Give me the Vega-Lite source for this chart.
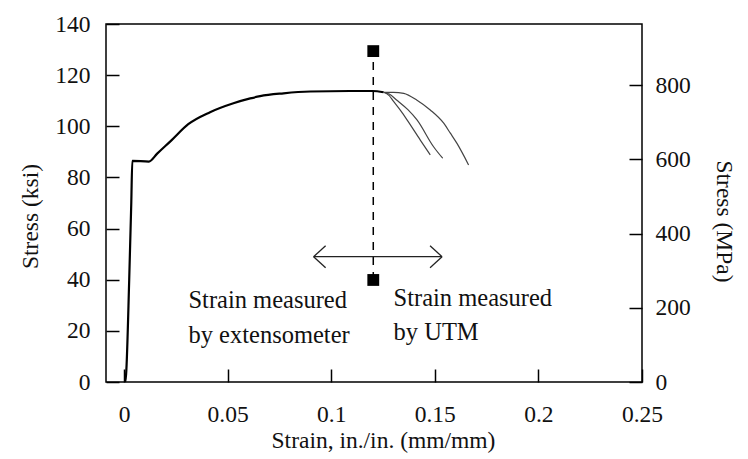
{
  "$schema": "https://vega.github.io/schema/vega-lite/v6.json",
  "width": 536,
  "height": 358,
  "autosize": {"type": "none"},
  "padding": {"left": 106, "top": 24, "right": 106, "bottom": 77},
  "background": "white",
  "config": {
    "view": {"stroke": "black", "strokeWidth": 1.5},
    "font": "Liberation Serif",
    "axis": {
      "domain": false,
      "grid": false,
      "tickColor": "black",
      "tickWidth": 1.5,
      "tickSize": -13,
      "labelFont": "Liberation Serif",
      "labelFontSize": 23.5,
      "labelColor": "#111",
      "titleFont": "Liberation Serif",
      "titleFontSize": 23.5,
      "titleFontWeight": "normal",
      "titleColor": "#111",
      "labelFlush": false,
      "labelOverlap": false
    }
  },
  "datasets": {
    "main": [
      {"strain": 0.0005, "stress": 0},
      {"strain": 0.001, "stress": 3},
      {"strain": 0.0025, "stress": 40},
      {"strain": 0.0035, "stress": 70},
      {"strain": 0.004, "stress": 86.5},
      {"strain": 0.012, "stress": 86.2},
      {"strain": 0.016, "stress": 89.3},
      {"strain": 0.023, "stress": 94.6},
      {"strain": 0.031, "stress": 100.8},
      {"strain": 0.0415, "stress": 105.5},
      {"strain": 0.0528, "stress": 109.0},
      {"strain": 0.0609, "stress": 110.9},
      {"strain": 0.0657, "stress": 111.8},
      {"strain": 0.077, "stress": 112.9},
      {"strain": 0.0899, "stress": 113.6},
      {"strain": 0.109, "stress": 113.8},
      {"strain": 0.12, "stress": 113.8},
      {"strain": 0.1253, "stress": 113.3}
    ],
    "tails": [
      {"series": "A", "strain": 0.1253, "stress": 113.3},
      {"series": "A", "strain": 0.128, "stress": 112.0},
      {"series": "A", "strain": 0.130, "stress": 109.8},
      {"series": "A", "strain": 0.1336, "stress": 106.0},
      {"series": "A", "strain": 0.1366, "stress": 102.5},
      {"series": "A", "strain": 0.143, "stress": 94.6},
      {"series": "A", "strain": 0.1478, "stress": 88.8},
      {"series": "B", "strain": 0.1253, "stress": 113.3},
      {"series": "B", "strain": 0.128, "stress": 112.6},
      {"series": "B", "strain": 0.1317, "stress": 110.2},
      {"series": "B", "strain": 0.137, "stress": 106.5},
      {"series": "B", "strain": 0.1414, "stress": 102.5},
      {"series": "B", "strain": 0.1494, "stress": 92.0},
      {"series": "B", "strain": 0.1538, "stress": 87.5},
      {"series": "C", "strain": 0.1253, "stress": 113.3},
      {"series": "C", "strain": 0.130, "stress": 113.3},
      {"series": "C", "strain": 0.135, "stress": 112.9},
      {"series": "C", "strain": 0.1414, "stress": 110.2},
      {"series": "C", "strain": 0.1478, "stress": 106.4},
      {"series": "C", "strain": 0.1543, "stress": 101.2},
      {"series": "C", "strain": 0.1575, "stress": 97.3},
      {"series": "C", "strain": 0.1607, "stress": 93.3},
      {"series": "C", "strain": 0.1663, "stress": 84.9}
    ],
    "dashed": [
      {"strain": 0.1203, "stress": 39.9, "stress2": 129.4}
    ],
    "squares": [
      {"strain": 0.1203, "stress": 129.4},
      {"strain": 0.1203, "stress": 39.9}
    ],
    "arrow": [
      {"strain": 0.0915, "stress": 49, "strain2": 0.1535, "stress2": 49},
      {"strain": 0.0915, "stress": 49, "strain2": 0.0973, "stress2": 53.3},
      {"strain": 0.0915, "stress": 49, "strain2": 0.0973, "stress2": 44.7},
      {"strain": 0.1535, "stress": 49, "strain2": 0.1477, "stress2": 53.3},
      {"strain": 0.1535, "stress": 49, "strain2": 0.1477, "stress2": 44.7}
    ],
    "labels": [
      {"strain": 0.0311, "stress": 28.9, "label": "Strain measured"},
      {"strain": 0.0311, "stress": 15.2, "label": "by extensometer"},
      {"strain": 0.1301, "stress": 29.7, "label": "Strain measured"},
      {"strain": 0.1301, "stress": 16.4, "label": "by UTM"}
    ],
    "mpa": [
      {"mpa": 0},
      {"mpa": 965.27}
    ]
  },
  "layer": [
    {
      "layer": [
        {
          "data": {"name": "main"},
          "mark": {"type": "line", "color": "black", "strokeWidth": 2.2, "interpolate": "monotone"},
          "encoding": {
            "x": {
              "field": "strain", "type": "quantitative",
              "scale": {"domain": [-0.0087, 0.25], "nice": false, "zero": false},
              "axis": {
                "title": "Strain, in./in. (mm/mm)",
                "values": [0, 0.05, 0.1, 0.15, 0.2, 0.25],
                "format": "~g",
                "labelPadding": 33,
                "titleX": 277,
                "titleY": 58,
                "titleBaseline": "middle"
              }
            },
            "y": {
              "field": "stress", "type": "quantitative",
              "scale": {"domain": [0, 140], "nice": false},
              "axis": {
                "title": "Stress (ksi)",
                "values": [0, 20, 40, 60, 80, 100, 120, 140],
                "labelPadding": 29,
                "titleX": -76,
                "titleY": 192,
                "titleBaseline": "middle",
                "titleAlign": "center"
              }
            }
          }
        },
        {
          "data": {"name": "tails"},
          "mark": {"type": "line", "color": "#444", "strokeWidth": 1.2, "interpolate": "monotone"},
          "encoding": {
            "x": {"field": "strain", "type": "quantitative"},
            "y": {"field": "stress", "type": "quantitative"},
            "detail": {"field": "series"}
          }
        },
        {
          "data": {"name": "dashed"},
          "mark": {"type": "rule", "color": "black", "strokeWidth": 1.5, "strokeDash": [8, 7]},
          "encoding": {
            "x": {"field": "strain", "type": "quantitative"},
            "y": {"field": "stress", "type": "quantitative"},
            "y2": {"field": "stress2"}
          }
        },
        {
          "data": {"name": "squares"},
          "mark": {"type": "point", "shape": "square", "filled": true, "color": "black", "opacity": 1, "size": 140},
          "encoding": {
            "x": {"field": "strain", "type": "quantitative"},
            "y": {"field": "stress", "type": "quantitative"}
          }
        },
        {
          "data": {"name": "arrow"},
          "mark": {"type": "rule", "color": "#222", "strokeWidth": 1.3},
          "encoding": {
            "x": {"field": "strain", "type": "quantitative"},
            "y": {"field": "stress", "type": "quantitative"},
            "x2": {"field": "strain2"},
            "y2": {"field": "stress2"}
          }
        },
        {
          "data": {"name": "labels"},
          "mark": {"type": "text", "align": "left", "baseline": "alphabetic", "font": "Liberation Serif", "fontSize": 24.5, "color": "#111"},
          "encoding": {
            "x": {"field": "strain", "type": "quantitative"},
            "y": {"field": "stress", "type": "quantitative"},
            "text": {"field": "label"}
          }
        }
      ]
    },
    {
      "data": {"name": "mpa"},
      "mark": {"type": "point", "opacity": 0},
      "encoding": {
        "y": {
          "field": "mpa", "type": "quantitative",
          "scale": {"domain": [0, 965.27], "nice": false},
          "axis": {
            "orient": "right",
            "title": "Stress (MPa)",
            "values": [0, 200, 400, 600, 800],
            "labelPadding": 26,
            "titleX": 81,
            "titleY": 197,
            "titleBaseline": "middle",
            "titleAlign": "center"
          }
        }
      }
    }
  ],
  "resolve": {"scale": {"y": "independent"}, "axis": {"y": "independent"}}
}
